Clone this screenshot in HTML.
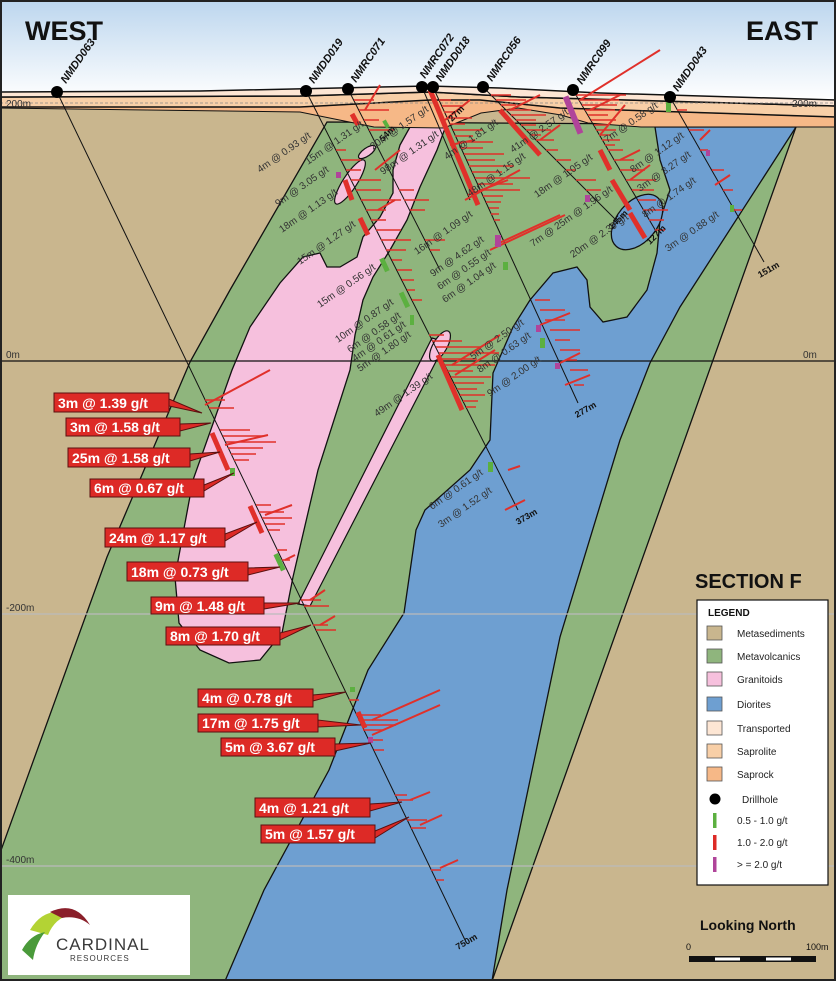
<!DOCTYPE html>
<html><head><meta charset="utf-8"><style>
html,body{margin:0;padding:0;background:#fff}
svg{display:block}
.g{font-family:"Liberation Sans",sans-serif;font-size:10px;fill:#333}
.h{font-family:"Liberation Sans",sans-serif;font-size:11px;font-weight:bold;font-style:italic;fill:#111}
.d{font-family:"Liberation Sans",sans-serif;font-size:9px;font-weight:bold;fill:#111}
.lb{font-family:"Liberation Sans",sans-serif;font-size:14px;font-weight:bold;fill:#fff}
.lg{font-family:"Liberation Sans",sans-serif;font-size:10px;fill:#222}
.ax{font-family:"Liberation Sans",sans-serif;font-size:10px;fill:#333}
</style></head><body>
<svg width="836" height="981" viewBox="0 0 836 981" xmlns="http://www.w3.org/2000/svg">
<defs><linearGradient id="sky" x1="0" y1="0" x2="0" y2="1"><stop offset="0" stop-color="#bcd6ee"/><stop offset="1" stop-color="#ffffff"/></linearGradient></defs>
<rect x="0" y="0" width="836" height="981" fill="#c9b68e"/>
<rect x="0" y="0" width="836" height="100" fill="url(#sky)"/>
<polygon points="327,122 655,124 796,127 492,981 0,981 0,853 107,557 190,362 230,290" fill="#8fb57d" stroke="#111" stroke-width="1.3"/>
<polygon points="655,127 796,127 680,307 650,363 620,440 560,637 507,890 492,981 225,981 264,890 329,770 368,670 404,613 416,530 425,510 470,470 490,440 493,373 513,327 530,300 553,273 577,267 587,280 590,307 603,322 627,317 647,290 657,253 660,220 670,190 660,160" fill="#6e9fd1" stroke="#111" stroke-width="1.3"/>
<ellipse cx="637" cy="222" rx="32" ry="20" transform="rotate(-50 637 222)" fill="#6e9fd1" stroke="#111" stroke-width="1.3"/>
<polygon points="410,127 447,123 437,150 420,187 407,220 390,250 373,277 363,300 355,335 350,370 318,470 293,577 282,633 260,660 229,663 200,650 179,623 175,577 193,480 232,370 250,327 280,283 303,257 320,253 327,267 340,267 357,257 363,237 380,217 393,193 393,170 400,145" fill="#f6c0dd" stroke="#111" stroke-width="1.3"/>
<polygon points="432,338 446,342 310,606 298,604" fill="#f6c0dd" stroke="#111" stroke-width="1.2"/>
<ellipse cx="440" cy="346" rx="7" ry="17" transform="rotate(30 440 346)" fill="#f6c0dd" stroke="#111" stroke-width="1.2"/>
<ellipse cx="350" cy="182" rx="26" ry="7" transform="rotate(-57 350 182)" fill="#f6c0dd" stroke="#111" stroke-width="1.2"/>
<ellipse cx="367" cy="152" rx="10" ry="4" transform="rotate(-35 367 152)" fill="#f6c0dd" stroke="#111" stroke-width="1.2"/>
<polygon points="0,107 300,107 430,100 480,100 560,108 836,117 836,127 641,127 588,123 561,115 518,108 481,113 444,128 374,127 300,112 0,108" fill="#f6b887" stroke="#111" stroke-width="1"/>
<polygon points="0,97 300,96 430,92 520,97 836,106 836,117 560,108 480,100 430,100 300,107 0,107" fill="#f8cfa7" stroke="#111" stroke-width="1.5"/>
<polygon points="0,92 200,91 428,86 500,88 600,93 836,100 836,106 520,97 430,92 300,96 0,97" fill="#fde6d4" stroke="#111" stroke-width="1.5"/>
<line x1="0" y1="103" x2="836" y2="103" stroke="#888" stroke-width="0.8" stroke-dasharray="3,2"/>
<line x1="0" y1="361" x2="836" y2="361" stroke="#111" stroke-width="1.3"/>
<line x1="0" y1="614" x2="836" y2="614" stroke="#bbb" stroke-width="1.2"/>
<line x1="0" y1="866" x2="836" y2="866" stroke="#bbb" stroke-width="1.2"/>
<text class="ax" x="6" y="107">200m</text><text class="ax" x="792" y="107">200m</text>
<text class="ax" x="6" y="358">0m</text><text class="ax" x="803" y="358">0m</text>
<text class="ax" x="6" y="611">-200m</text><text class="ax" x="6" y="863">-400m</text>
<g stroke="#111" stroke-width="1" fill="none">
<line x1="57" y1="92" x2="465" y2="940"/>
<line x1="306" y1="91" x2="518" y2="510"/>
<line x1="348" y1="89" x2="440" y2="270"/>
<line x1="422" y1="87" x2="470" y2="200"/>
<line x1="433" y1="87" x2="578" y2="403"/>
<line x1="483" y1="87" x2="618" y2="222"/>
<line x1="573" y1="90" x2="657" y2="233"/>
<line x1="670" y1="97" x2="764" y2="262"/>
</g>
<g stroke="#e0302a" fill="none">
<path stroke-width="1.6" d="M439,100h12M442,106h20M444,112h10M447,118h25M450,124h15M453,130h30M455,136h18M458,142h35M461,148h22M464,154h40M467,160h28M469,166h45M472,172h30M475,178h55M478,184h35M480,190h40M483,196h20M486,202h15M489,208h10M491,214h8M494,220h6
M429,335h15M432,341h30M436,347h45M439,353h60M442,359h35M445,365h50M448,371h25M451,377h40M454,383h30M457,389h20M460,395h25M463,401h15M466,407h10
M336,150h10M341,160h20M346,170h15M351,180h30M356,190h25M361,200h40M366,210h20M371,220h15M376,230h25M381,240h30M386,250h20M392,260h10M397,270h15M402,280h12M407,290h8M412,300h10
M576,95h50M579,100h40M582,105h35M585,110h30M588,115h20M591,120h25M594,125h15M596,130h20M599,135h12M602,140h18M605,145h10M608,150h15M614,160h20M620,170h25M626,180h30M632,190h22M638,200h18M643,210h25M649,220h15M655,230h10
M491,95h20M496,100h30M501,105h15M506,110h25M511,115h35M516,120h20M521,125h15M526,130h25M531,135h10M536,140h18M546,150h12M556,160h15M566,170h10M576,180h20M586,190h15
M205,400h20M209,408h25M220,430h30M223,436h40M226,442h50M228,448h35M231,454h25M234,460h15M256,505h15M259,512h25M262,518h30M265,524h20M268,530h12M277,550h10M282,560h8M301,600h20M304,606h25M313,625h15M316,630h20M349,700h10M356,715h25M358,720h40M361,725h35M363,730h20M368,740h15M374,750h10M395,795h12M398,800h15M407,820h20M411,828h15M431,870h10M436,880h8
M354,100h20M359,110h30M364,120h15M369,130h25M399,190h15M404,200h25M410,210h15M425,240h20M430,250h10
M677,110h10M689,130h15M700,150h8M712,170h12M723,190h10M734,210h8
M535,300h15M540,310h25M545,320h20M550,330h30M555,340h15M560,350h20M565,360h12M570,370h18M574,385h10"/>
<g stroke-width="5">
<line x1="430" y1="90" x2="478" y2="205"/><line x1="438" y1="355" x2="462" y2="410"/>
<line x1="500" y1="110" x2="540" y2="155"/><line x1="600" y1="150" x2="610" y2="170"/>
<line x1="612" y1="180" x2="630" y2="210"/><line x1="630" y1="213" x2="645" y2="238"/>
<line x1="345" y1="180" x2="352" y2="200"/><line x1="360" y1="218" x2="368" y2="235"/>
<line x1="212" y1="433" x2="228" y2="470"/><line x1="250" y1="506" x2="262" y2="533"/>
<line x1="358" y1="712" x2="365" y2="728"/><line x1="352" y1="114" x2="358" y2="125"/>
</g>
<g stroke-width="2">
<line x1="445" y1="120" x2="470" y2="100"/><line x1="450" y1="145" x2="475" y2="140"/>
<line x1="465" y1="200" x2="520" y2="170"/><line x1="468" y1="195" x2="508" y2="180"/>
<line x1="490" y1="250" x2="565" y2="215"/><line x1="495" y1="245" x2="560" y2="215"/>
<line x1="510" y1="110" x2="540" y2="95"/><line x1="540" y1="140" x2="560" y2="125"/>
<line x1="580" y1="100" x2="660" y2="50"/><line x1="590" y1="110" x2="620" y2="95"/>
<line x1="620" y1="160" x2="640" y2="150"/><line x1="630" y1="180" x2="650" y2="165"/>
<line x1="700" y1="140" x2="710" y2="130"/><line x1="715" y1="185" x2="730" y2="175"/>
<line x1="452" y1="365" x2="500" y2="335"/><line x1="455" y1="375" x2="495" y2="350"/>
<line x1="540" y1="325" x2="570" y2="313"/><line x1="560" y1="363" x2="580" y2="353"/>
<line x1="565" y1="385" x2="590" y2="375"/><line x1="205" y1="405" x2="270" y2="370"/>
<line x1="225" y1="445" x2="268" y2="435"/><line x1="265" y1="515" x2="292" y2="505"/>
<line x1="285" y1="560" x2="295" y2="555"/><line x1="310" y1="600" x2="325" y2="590"/>
<line x1="320" y1="625" x2="335" y2="616"/><line x1="372" y1="720" x2="440" y2="690"/>
<line x1="372" y1="735" x2="440" y2="705"/><line x1="410" y1="800" x2="430" y2="792"/>
<line x1="420" y1="825" x2="442" y2="815"/><line x1="440" y1="868" x2="458" y2="860"/>
<line x1="365" y1="110" x2="380" y2="85"/><line x1="375" y1="170" x2="400" y2="150"/>
<line x1="378" y1="210" x2="395" y2="200"/><line x1="600" y1="135" x2="625" y2="105"/>
<line x1="505" y1="510" x2="525" y2="500"/><line x1="508" y1="470" x2="520" y2="466"/>
</g>
</g>
<g fill="#5cb040"><rect x="384" y="120" width="4" height="8" transform="rotate(-30 386 124)"/><rect x="382" y="258" width="5" height="14" transform="rotate(-25 384 265)"/><rect x="402" y="292" width="5" height="16" transform="rotate(-25 404 300)"/><rect x="410" y="315" width="4" height="10"/><rect x="230" y="468" width="5" height="8"/><rect x="277" y="553" width="5" height="18" transform="rotate(-25 280 562)"/><rect x="488" y="462" width="5" height="10"/><rect x="503" y="262" width="5" height="8"/><rect x="540" y="338" width="5" height="10"/><rect x="666" y="102" width="5" height="10"/><rect x="730" y="205" width="4" height="7"/><rect x="350" y="687" width="5" height="5"/></g>
<g fill="#b0449a"><rect x="570" y="95" width="6" height="40" transform="rotate(-22 573 115)"/><rect x="495" y="235" width="6" height="12"/><rect x="536" y="325" width="5" height="7"/><rect x="555" y="363" width="5" height="6"/><rect x="336" y="172" width="5" height="6"/><rect x="368" y="737" width="5" height="6"/><rect x="585" y="195" width="5" height="7"/><rect x="706" y="150" width="4" height="6"/></g>
<g fill="#000"><circle cx="57" cy="92" r="6"/><circle cx="306" cy="91" r="6"/><circle cx="348" cy="89" r="6"/><circle cx="422" cy="87" r="6"/><circle cx="433" cy="87" r="6"/><circle cx="483" cy="87" r="6"/><circle cx="573" cy="90" r="6"/><circle cx="670" cy="97" r="6"/></g>
<g class="h">
<text x="66" y="84" transform="rotate(-55 66 84)">NMDD063</text>
<text x="314" y="84" transform="rotate(-55 314 84)">NMDD019</text>
<text x="356" y="83" transform="rotate(-55 356 83)">NMRC071</text>
<text x="425" y="79" transform="rotate(-55 425 79)">NMRC072</text>
<text x="441" y="82" transform="rotate(-55 441 82)">NMDD018</text>
<text x="492" y="82" transform="rotate(-55 492 82)">NMRC056</text>
<text x="582" y="85" transform="rotate(-55 582 85)">NMRC099</text>
<text x="678" y="92" transform="rotate(-55 678 92)">NMDD043</text>
</g>
<g class="d">
<text x="760" y="278" transform="rotate(-30 760 278)">151m</text>
<text x="577" y="418" transform="rotate(-30 577 418)">277m</text>
<text x="518" y="525" transform="rotate(-30 518 525)">373m</text>
<text x="458" y="950" transform="rotate(-30 458 950)">750m</text>
<text x="650" y="245" transform="rotate(-45 650 245)">127m</text>
<text x="612" y="230" transform="rotate(-45 612 230)">145m</text>
<text x="452" y="122" transform="rotate(-45 452 122)">27m</text>
<text x="383" y="142" transform="rotate(-45 383 142)">54m</text>
</g>
<g class="g">
<text x="260" y="173" transform="rotate(-35 260 173)">4m @ 0.93 g/t</text>
<text x="308" y="165" transform="rotate(-35 308 165)">15m @ 1.31 g/t</text>
<text x="278" y="207" transform="rotate(-35 278 207)">9m @ 3.05 g/t</text>
<text x="282" y="233" transform="rotate(-35 282 233)">18m @ 1.13 g/t</text>
<text x="300" y="265" transform="rotate(-35 300 265)">15m @ 1.27 g/t</text>
<text x="320" y="308" transform="rotate(-35 320 308)">15m @ 0.56 g/t</text>
<text x="338" y="343" transform="rotate(-35 338 343)">10m @ 0.87 g/t</text>
<text x="350" y="353" transform="rotate(-35 350 353)">6m @ 0.58 g/t</text>
<text x="355" y="362" transform="rotate(-35 355 362)">4m @ 0.61 g/t</text>
<text x="360" y="372" transform="rotate(-35 360 372)">5m @ 1.80 g/t</text>
<text x="383" y="175" transform="rotate(-35 383 175)">98m @ 1.31 g/t</text>
<text x="373" y="150" transform="rotate(-35 373 150)">20m @ 1.57 g/t</text>
<text x="417" y="255" transform="rotate(-35 417 255)">16m @ 1.09 g/t</text>
<text x="433" y="277" transform="rotate(-35 433 277)">9m @ 4.62 g/t</text>
<text x="440" y="290" transform="rotate(-35 440 290)">6m @ 0.55 g/t</text>
<text x="445" y="303" transform="rotate(-35 445 303)">6m @ 1.04 g/t</text>
<text x="447" y="160" transform="rotate(-35 447 160)">4m @ 1.81 g/t</text>
<text x="470" y="197" transform="rotate(-35 470 197)">48m @ 1.15 g/t</text>
<text x="513" y="153" transform="rotate(-35 513 153)">41m @ 2.57 g/t</text>
<text x="537" y="198" transform="rotate(-35 537 198)">18m @ 1.05 g/t</text>
<text x="533" y="247" transform="rotate(-35 533 247)">7m @ 25m @ 1.96 g/t</text>
<text x="573" y="258" transform="rotate(-35 573 258)">20m @ 2.39 g/t</text>
<text x="607" y="143" transform="rotate(-35 607 143)">7m @ 0.58 g/t</text>
<text x="633" y="173" transform="rotate(-35 633 173)">8m @ 1.12 g/t</text>
<text x="640" y="192" transform="rotate(-35 640 192)">3m @ 3.27 g/t</text>
<text x="645" y="218" transform="rotate(-35 645 218)">8m @ 1.74 g/t</text>
<text x="668" y="252" transform="rotate(-35 668 252)">3m @ 0.88 g/t</text>
<text x="473" y="360" transform="rotate(-35 473 360)">5m @ 2.50 g/t</text>
<text x="480" y="373" transform="rotate(-35 480 373)">8m @ 0.63 g/t</text>
<text x="490" y="397" transform="rotate(-35 490 397)">9m @ 2.00 g/t</text>
<text x="377" y="417" transform="rotate(-35 377 417)">49m @ 1.39 g/t</text>
<text x="432" y="510" transform="rotate(-35 432 510)">6m @ 0.61 g/t</text>
<text x="441" y="528" transform="rotate(-35 441 528)">3m @ 1.52 g/t</text>
</g>
<g fill="#dd2a26" stroke="#5a1010" stroke-width="1">
<polygon points="169,399 169,406 202,413"/><rect x="54" y="393" width="115" height="19"/>
<polygon points="180,424 180,431 211,423"/><rect x="66" y="418" width="114" height="18"/>
<polygon points="190,454 190,461 220,452"/><rect x="68" y="448" width="122" height="19"/>
<polygon points="204,485 204,491 234,473"/><rect x="90" y="479" width="114" height="18"/>
<polygon points="225,534 225,541 257,522"/><rect x="105" y="528" width="120" height="19"/>
<polygon points="248,568 248,575 280,567"/><rect x="127" y="562" width="121" height="19"/>
<polygon points="264,603 264,609 300,603"/><rect x="151" y="597" width="113" height="17"/>
<polygon points="280,633 280,640 311,625"/><rect x="166" y="627" width="114" height="18"/>
<polygon points="313,695 313,701 346,692"/><rect x="198" y="689" width="115" height="18"/>
<polygon points="318,720 318,727 361,725"/><rect x="198" y="714" width="120" height="18"/>
<polygon points="335,744 335,751 371,743"/><rect x="221" y="738" width="114" height="18"/>
<polygon points="370,804 370,811 402,802"/><rect x="255" y="798" width="115" height="19"/>
<polygon points="375,831 375,838 409,817"/><rect x="261" y="825" width="114" height="18"/>
</g>
<g class="lb">
<text x="58" y="408">3m @ 1.39 g/t</text><text x="70" y="432">3m @ 1.58 g/t</text>
<text x="72" y="463">25m @ 1.58 g/t</text><text x="94" y="493">6m @ 0.67 g/t</text>
<text x="109" y="543">24m @ 1.17 g/t</text><text x="131" y="577">18m @ 0.73 g/t</text>
<text x="155" y="611">9m @ 1.48 g/t</text><text x="170" y="641">8m @ 1.70 g/t</text>
<text x="202" y="703">4m @ 0.78 g/t</text><text x="202" y="728">17m @ 1.75 g/t</text>
<text x="225" y="752">5m @ 3.67 g/t</text><text x="259" y="813">4m @ 1.21 g/t</text>
<text x="265" y="839">5m @ 1.57 g/t</text>
</g>
<text x="25" y="40" style="font-family:'Liberation Sans',sans-serif;font-size:27px;font-weight:bold;fill:#111">WEST</text>
<text x="746" y="40" style="font-family:'Liberation Sans',sans-serif;font-size:27px;font-weight:bold;fill:#111">EAST</text>
<text x="695" y="588" style="font-family:'Liberation Sans',sans-serif;font-size:20px;font-weight:bold;fill:#111">SECTION F</text>
<rect x="697" y="600" width="131" height="285" fill="#fff" stroke="#111" stroke-width="1.2"/>
<text x="708" y="616" style="font-family:'Liberation Sans',sans-serif;font-size:10px;font-weight:bold;fill:#111">LEGEND</text>
<g stroke="#555" stroke-width="0.8">
<rect x="707" y="626" width="15" height="14" fill="#c9b68e"/>
<rect x="707" y="649" width="15" height="14" fill="#8fb57d"/>
<rect x="707" y="672" width="15" height="14" fill="#f6c0dd"/>
<rect x="707" y="697" width="15" height="14" fill="#6e9fd1"/>
<rect x="707" y="721" width="15" height="14" fill="#fde6d4"/>
<rect x="707" y="744" width="15" height="14" fill="#f8cfa7"/>
<rect x="707" y="767" width="15" height="14" fill="#f6b887"/>
</g>
<circle cx="715" cy="799" r="5.5" fill="#000"/>
<rect x="713" y="813" width="3.5" height="15" fill="#5cb040"/>
<rect x="713" y="835" width="3.5" height="15" fill="#dd2a26"/>
<rect x="713" y="857" width="3.5" height="15" fill="#b0449a"/>
<g class="lg">
<text x="737" y="637">Metasediments</text><text x="737" y="660">Metavolcanics</text>
<text x="737" y="683">Granitoids</text><text x="737" y="708">Diorites</text>
<text x="737" y="732">Transported</text><text x="737" y="755">Saprolite</text>
<text x="737" y="778">Saprock</text><text x="742" y="803">Drillhole</text>
<text x="737" y="824">0.5 - 1.0  g/t</text><text x="737" y="846">1.0 - 2.0 g/t</text>
<text x="737" y="868">&gt; = 2.0 g/t</text>
</g>
<text x="700" y="930" style="font-family:'Liberation Sans',sans-serif;font-size:14px;font-weight:bold;fill:#111">Looking North</text>
<text x="686" y="950" style="font-family:'Liberation Sans',sans-serif;font-size:9px;fill:#111">0</text>
<text x="806" y="950" style="font-family:'Liberation Sans',sans-serif;font-size:9px;fill:#111">100m</text>
<rect x="689" y="956" width="127" height="6" fill="#111"/>
<rect x="715" y="957.5" width="25" height="3" fill="#fff"/><rect x="766" y="957.5" width="25" height="3" fill="#fff"/>
<rect x="8" y="895" width="182" height="80" fill="#fff"/>
<path d="M30,930 Q45,905 70,915 Q55,918 48,935 Z" fill="#b3d334"/>
<path d="M50,912 Q75,900 90,925 Q78,915 62,918 Z" fill="#8a1f2a"/>
<path d="M22,950 Q30,935 45,932 Q35,945 33,960 Z" fill="#4a9a3a"/>
<text x="56" y="950" style="font-family:'Liberation Sans',sans-serif;font-size:17px;fill:#3a3a3a;letter-spacing:1px">CARDINAL</text>
<text x="70" y="961" style="font-family:'Liberation Sans',sans-serif;font-size:8px;fill:#3a3a3a;letter-spacing:1px">RESOURCES</text>
<rect x="1" y="1" width="834" height="979" fill="none" stroke="#222" stroke-width="2"/>
</svg>
</body></html>
